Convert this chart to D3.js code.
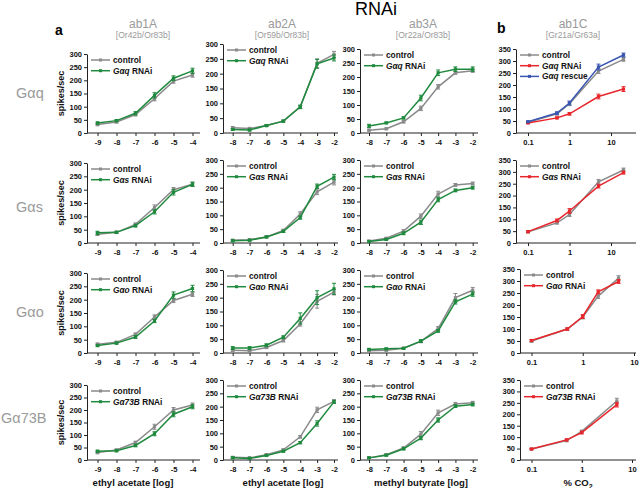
<!DOCTYPE html>
<html lang="en">
<head>
<meta charset="UTF-8">
<title>RNAi</title>
<script src="https://d3js.org/d3.v7.min.js"></script>
<style>
    body { margin: 0; background: #fff; }
    svg { display: block; font-family: Arial, "Liberation Sans", sans-serif; }
    .tick text { font-size: 7.5px; font-weight: bold; fill: #111; }
    .tick line, .domain { stroke: #222; }
</style>
</head>
<body>
<svg id="chart" width="640" height="488"></svg>
<script>
// ---- data ----
const rowNames = ["Gαq", "Gαs", "Gαo", "Gα73B"];
const colTitles = ["ab1A", "ab2A", "ab3A", "ab1C"];
const colSubs = ["[Or42b/Or83b]", "[Or59b/Or83b]", "[Or22a/Or83b]", "[Gr21a/Gr63a]"];
const xTitles = ["ethyl acetate [log]", "ethyl acetate [log]", "methyl butyrate [log]", "% CO"];

const concAb1A = [-9, -8, -7, -6, -5, -4];
const concAb2A = [-8, -7, -6, -5, -4, -3, -2];
const concAb3A = [-8, -7, -6, -5, -4, -3, -2];
const co2Gq = [0.1, 0.5, 1, 5, 20];
const co2Gs = [0.1, 0.5, 1, 5, 20];
const co2Go = [0.1, 0.5, 1, 2, 5];
const co2G73B = [0.1, 0.5, 1, 5];
const logTicks = [-9, -8, -7, -6, -5, -4, -3, -2];
const co2Ticks = [0.1, 1, 10];

// each array: [ab1A, ab2A, ab3A, ab1C]
const ctrlGq = [[32, 42, 70, 130, 197, 220], [18, 15, 25, 40, 88, 235, 265], [10, 15, 40, 88, 165, 215, 222], [45, 80, 122, 258, 307]];
const rnaiGq = [[38, 47, 75, 143, 208, 236], [12, 10, 25, 40, 88, 233, 253], [25, 36, 54, 125, 215, 228, 228], [42, 63, 80, 152, 183]];
const rescueGq = [47, 83, 125, 275, 325];
const errCtrlGq = [[4, 4, 5, 8, 8, 8], [4, 4, 3, 3, 5, 15, 10], [3, 3, 4, 8, 8, 5, 5], [3, 5, 8, 10, 8]];
const errRnaiGq = [[4, 4, 6, 10, 9, 10], [3, 3, 3, 3, 6, 15, 10], [6, 3, 4, 10, 10, 8, 8], [3, 4, 5, 10, 10]];
const errRescueGq = [3, 5, 8, 12, 8];

const ctrlGs = [[33, 40, 70, 133, 200, 220], [10, 12, 22, 45, 105, 185, 220], [7, 17, 43, 97, 177, 210, 215], [47, 85, 120, 258, 308]];
const rnaiGs = [[38, 40, 65, 117, 190, 220], [8, 10, 22, 42, 92, 205, 238], [5, 13, 35, 75, 157, 190, 200], [48, 95, 135, 240, 297]];
const errCtrlGs = [[5, 4, 5, 10, 8, 8], [3, 3, 3, 5, 8, 10, 10], [3, 3, 5, 8, 10, 5, 5], [4, 5, 8, 10, 8]];
const errRnaiGs = [[6, 4, 5, 8, 10, 8], [3, 3, 3, 4, 6, 8, 10], [3, 3, 5, 8, 8, 5, 5], [4, 6, 10, 8, 6]];

const ctrlGo = [[33, 40, 70, 135, 197, 220], [10, 8, 20, 45, 105, 187, 220], [8, 10, 17, 42, 88, 200, 227], [50, 100, 150, 237, 312]];
const rnaiGo = [[28, 37, 60, 120, 217, 242], [18, 18, 28, 57, 125, 200, 232], [13, 15, 17, 43, 80, 185, 213], [52, 100, 152, 255, 298]];
const errCtrlGo = [[4, 4, 5, 8, 8, 8], [4, 4, 4, 5, 8, 25, 10], [3, 3, 3, 5, 8, 15, 10], [5, 5, 8, 10, 10]];
const errRnaiGo = [[4, 4, 5, 6, 12, 12], [5, 5, 5, 5, 20, 25, 20], [3, 3, 3, 5, 5, 8, 8], [4, 4, 8, 8, 8]];

const ctrlG73B = [[30, 40, 70, 133, 200, 220], [10, 8, 20, 38, 87, 188, 220], [8, 20, 45, 97, 177, 210, 215], [48, 85, 125, 258]];
const rnaiG73B = [[35, 37, 58, 105, 183, 213], [8, 6, 17, 33, 65, 137, 218], [8, 18, 42, 82, 150, 202, 208], [48, 88, 120, 242]];
const errCtrlG73B = [[5, 4, 5, 10, 10, 8], [3, 3, 3, 4, 5, 10, 6], [3, 3, 4, 10, 10, 5, 5], [3, 5, 5, 12]];
const errRnaiG73B = [[4, 4, 5, 8, 10, 8], [3, 3, 3, 3, 4, 10, 6], [3, 3, 4, 6, 8, 5, 5], [3, 4, 6, 10]];

// ---- layout ----
const grey = "#8a8a8a", green = "#1f8a3e", red = "#e8272d", blue = "#3a56b2", label = "#9a9a9a";
const colAxisX = [87, 223, 360, 516];
const colAxisEnd = [200, 338, 478, 636];
const colRange = [[97.5, 192.5], [232.7, 334], [369, 472.7]];
const co2Range = [[528, 611], [528, 611], [531.5, 634], [531.5, 632]];
const co2AxisX = [516, 516, 520, 520];
const panelTop = [[54, 44, 49, 49], [163, 160, 160, 160], [273, 270, 270, 269], [385, 380, 380, 380]];
const rowBottom = [133, 243, 353, 460];
const rowLabelY = [93, 207, 312, 418];

const svg = d3.select("#chart");

svg.append("text").attr("x", 376).attr("y", 15).attr("text-anchor", "middle")
    .attr("font-size", 18).text("RNAi");
svg.append("text").attr("x", 55).attr("y", 35).attr("font-size", 14).attr("font-weight", "bold").text("a");
svg.append("text").attr("x", 497).attr("y", 33).attr("font-size", 14).attr("font-weight", "bold").text("b");

const titleX = [143, 282, 423, 573];
colTitles.forEach((t, i) => {
    svg.append("text").attr("x", titleX[i]).attr("y", 28).attr("text-anchor", "middle")
        .attr("font-size", 12).attr("fill", label).text(t);
    svg.append("text").attr("x", titleX[i]).attr("y", 38).attr("text-anchor", "middle")
        .attr("font-size", 8.5).attr("fill", label).text(colSubs[i]);
});

rowNames.forEach((n, r) => {
    svg.append("text").attr("x", r === 3 ? 1 : 16).attr("y", rowLabelY[r] + 5)
        .attr("font-size", 14.5).attr("fill", label).text(n);
});

const rows = [
    { name: "Gαq", co2: co2Gq, ctrl: ctrlGq, rnai: rnaiGq, eC: errCtrlGq, eR: errRnaiGq },
    { name: "Gαs", co2: co2Gs, ctrl: ctrlGs, rnai: rnaiGs, eC: errCtrlGs, eR: errRnaiGs },
    { name: "Gαo", co2: co2Go, ctrl: ctrlGo, rnai: rnaiGo, eC: errCtrlGo, eR: errRnaiGo },
    { name: "Gα73B", co2: co2G73B, ctrl: ctrlG73B, rnai: rnaiG73B, eC: errCtrlG73B, eR: errRnaiG73B }
];
const concs = [concAb1A, concAb2A, concAb3A];

function drawSeries(g, xs, ys, errs, x, y, color) {
    const pts = xs.map((v, i) => [x(v), y(ys[i]), errs[i]]);
    g.append("path").attr("d", d3.line()(pts.map(p => [p[0], p[1]])))
        .attr("fill", "none").attr("stroke", color).attr("stroke-width", 1.5);
    pts.forEach(p => {
        const lo = p[1] + (y(0) - y(p[2])), hi = p[1] - (y(0) - y(p[2]));
        g.append("line").attr("x1", p[0]).attr("x2", p[0]).attr("y1", lo).attr("y2", hi)
            .attr("stroke", color).attr("stroke-width", 1);
        [lo, hi].forEach(yy => g.append("line").attr("x1", p[0] - 2).attr("x2", p[0] + 2)
            .attr("y1", yy).attr("y2", yy).attr("stroke", color).attr("stroke-width", 1));
        g.append("rect").attr("x", p[0] - 1.6).attr("y", p[1] - 1.6).attr("width", 3.2).attr("height", 3.2)
            .attr("fill", color);
    });
}

function legend(g, x0, y0, items) {
    items.forEach((it, i) => {
        const yy = y0 + i * 10.7;
        g.append("line").attr("x1", x0).attr("x2", x0 + 19).attr("y1", yy).attr("y2", yy)
            .attr("stroke", it.color).attr("stroke-width", 1.5);
        g.append("rect").attr("x", x0 + 8).attr("y", yy - 1.5).attr("width", 3).attr("height", 3).attr("fill", it.color);
        const t = g.append("text").attr("x", x0 + 22).attr("y", yy + 3)
            .attr("font-size", 8.3).attr("font-weight", "bold").attr("fill", "#111");
        if (it.italic) {
            t.append("tspan").attr("font-style", "italic").text(it.italic);
            t.append("tspan").text(" " + it.rest);
        } else {
            t.text(it.rest);
        }
    });
}

rows.forEach((row, r) => {
    const bottom = rowBottom[r];
    for (let c = 0; c < 4; c++) {
        const g = svg.append("g");
        const top = panelTop[r][c];
        const isCo2 = c === 3;
        const y = d3.scaleLinear().domain([0, isCo2 ? 350 : 300]).range([bottom, top]);
        const axisX = isCo2 ? co2AxisX[r] : colAxisX[c];
        let x, xs;
        if (isCo2) {
            x = d3.scaleLog().domain([0.1, 10]).range(co2Range[r]);
            xs = row.co2;
        } else {
            x = d3.scaleLinear().domain([concs[c][0], concs[c][concs[c].length - 1]]).range(colRange[c]);
            xs = concs[c];
        }

        g.append("g").attr("transform", `translate(${axisX},0)`)
            .call(d3.axisLeft(y).tickValues(d3.range(0, isCo2 ? 351 : 301, 50)).tickSize(3).tickSizeOuter(0).tickPadding(2));

        const ticks = isCo2 ? co2Ticks : logTicks.filter(v => v >= xs[0] && v <= xs[xs.length - 1]);
        const xa = g.append("g").attr("transform", `translate(0,${bottom})`)
            .call(d3.axisBottom(x).tickValues(ticks).tickFormat(d => String(d)).tickSize(3).tickPadding(4));
        xa.select(".domain").remove();
        g.append("line").attr("x1", axisX).attr("x2", colAxisEnd[c]).attr("y1", bottom).attr("y2", bottom)
            .attr("stroke", "#222");

        const rnaiColor = isCo2 ? red : green;
        drawSeries(g, xs, row.ctrl[c], row.eC[c], x, y, grey);
        drawSeries(g, xs, row.rnai[c], row.eR[c], x, y, rnaiColor);
        const items = [{ color: grey, rest: "control" }, { color: rnaiColor, italic: row.name, rest: "RNAi" }];
        if (isCo2 && r === 0) {
            drawSeries(g, xs, rescueGq, errRescueGq, x, y, blue);
            items.push({ color: blue, italic: row.name, rest: "rescue" });
        }
        legend(g, axisX + 4, top + 6, items);

        if (c === 0) {
            g.append("text").attr("transform", `translate(64,${(top + bottom) / 2}) rotate(-90)`)
                .attr("text-anchor", "middle").attr("font-size", 9).attr("font-weight", "bold")
                .attr("fill", "#111").text("spikes/sec");
        }
        if (r === 3) {
            const t = g.append("text").attr("x", [133, 283, 421, 578][c]).attr("y", bottom + 26)
                .attr("text-anchor", "middle").attr("font-size", 9.5).attr("font-weight", "bold").attr("fill", "#111");
            t.append("tspan").text(xTitles[c]);
            if (isCo2) t.append("tspan").attr("font-size", 7).attr("dy", 2.5).text("2");
        }
    }
});
</script>
</body>
</html>
